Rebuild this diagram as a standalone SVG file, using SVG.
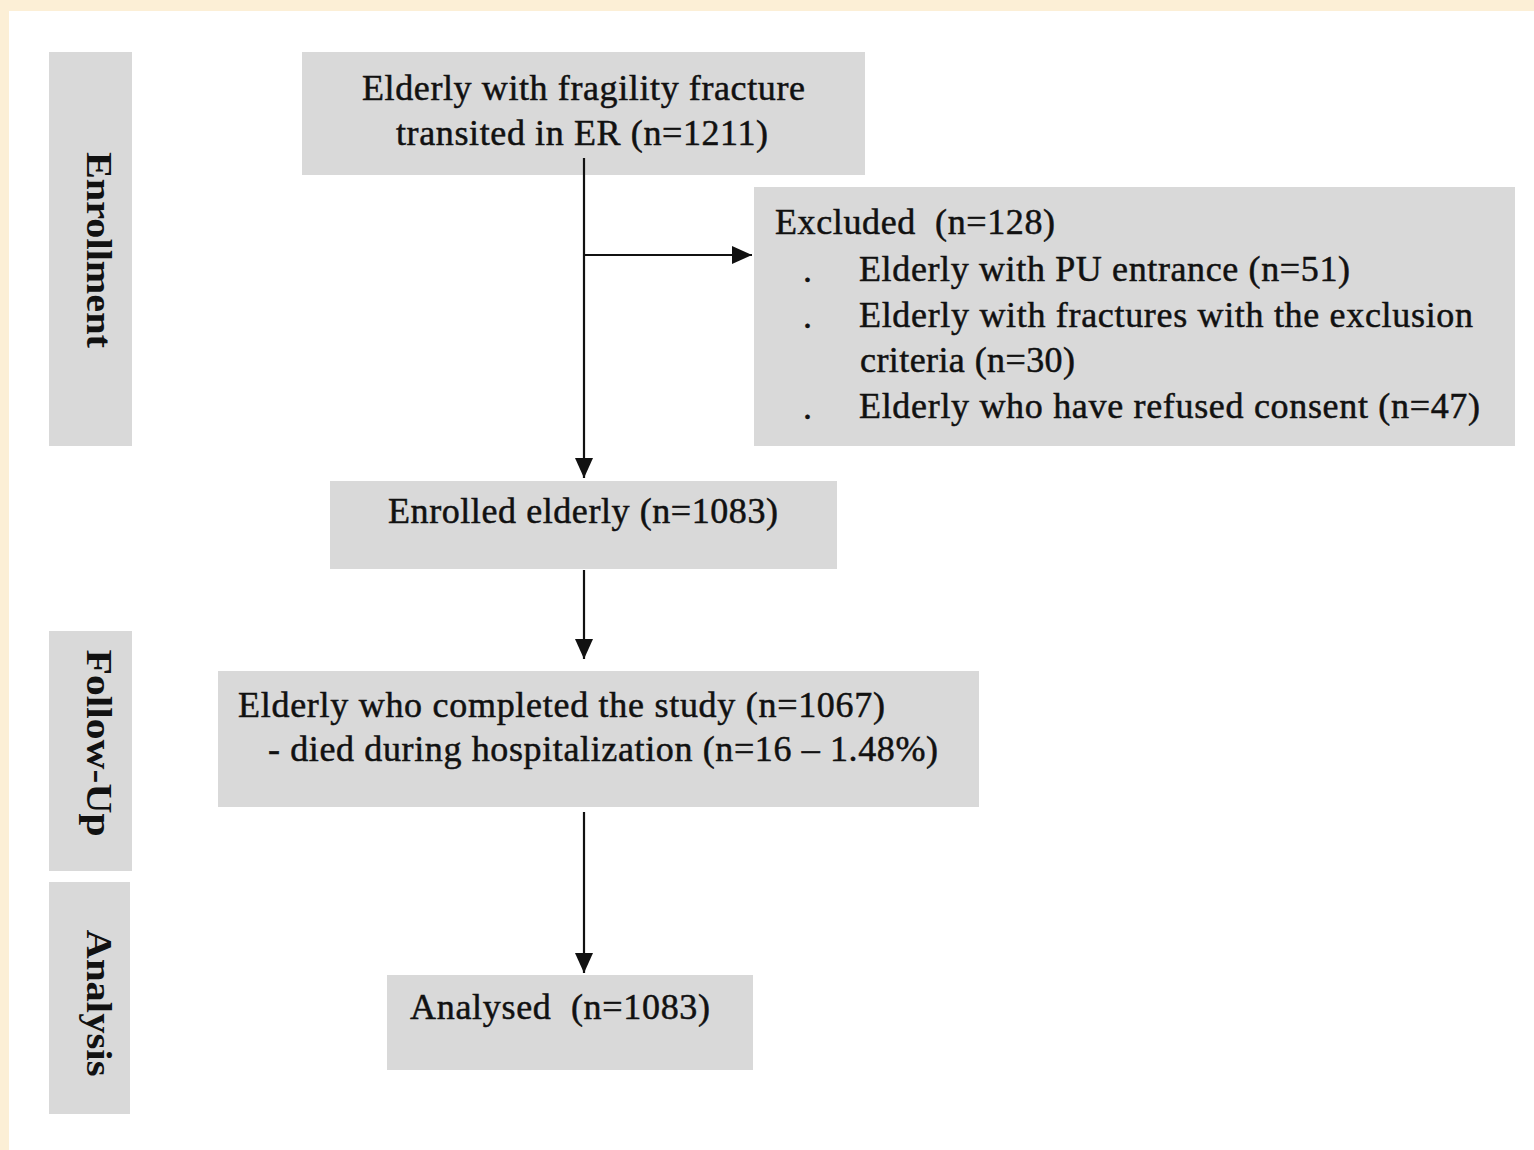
<svg xmlns="http://www.w3.org/2000/svg" width="1534" height="1150" viewBox="0 0 1534 1150">
  <style>
    .box { fill: #d9d9d9; }
    .t { font-family: "Liberation Serif", "Times New Roman", serif; font-size: 36px; fill: #111; stroke: #111; stroke-width: 0.5; }
    .side { font-family: "Liberation Serif", "Times New Roman", serif; font-size: 35px; font-weight: bold; fill: #111; text-anchor: middle; }
    .link { stroke: #111; stroke-width: 2.2; fill: none; marker-end: url(#head); }
  </style>
  <defs>
    <marker id="head" markerUnits="userSpaceOnUse" markerWidth="20" markerHeight="18" refX="20" refY="9" orient="auto">
      <path d="M0,0 L20,9 L0,18 Z" fill="#111"/>
    </marker>
  </defs>

  <!-- page background and frame -->
  <rect x="0" y="0" width="1534" height="1150" fill="#fcefd6"/>
  <rect x="9" y="11" width="1525" height="1139" fill="#ffffff"/>

  <!-- phase labels -->
  <g id="phase-enrollment">
    <rect class="box" x="49" y="52" width="83" height="394"/>
    <text class="side" transform="translate(87,250) rotate(90)" textLength="196" lengthAdjust="spacingAndGlyphs">Enrollment</text>
  </g>
  <g id="phase-followup">
    <rect class="box" x="49" y="631" width="83" height="240"/>
    <text class="side" transform="translate(87,743) rotate(90)" textLength="187" lengthAdjust="spacingAndGlyphs">Follow-Up</text>
  </g>
  <g id="phase-analysis">
    <rect class="box" x="49" y="882" width="81" height="232"/>
    <text class="side" transform="translate(87,1003) rotate(90)" textLength="147" lengthAdjust="spacingAndGlyphs">Analysis</text>
  </g>

  <!-- flow nodes -->
  <g id="node-transited">
    <rect class="box" x="302" y="52" width="563" height="123"/>
    <text class="t" x="362" y="100" textLength="443">Elderly with fragility fracture</text>
    <text class="t" x="396" y="145" textLength="372">transited in ER (n=1211)</text>
  </g>

  <g id="node-excluded">
    <rect class="box" x="754" y="187" width="761" height="259"/>
    <text class="t" x="775" y="234" textLength="280" xml:space="preserve">Excluded  (n=128)</text>
    <text class="t" x="803" y="282">.</text>
    <text class="t" x="859" y="281" textLength="491">Elderly with PU entrance (n=51)</text>
    <text class="t" x="803" y="328">.</text>
    <text class="t" x="859" y="327" textLength="614">Elderly with fractures with the exclusion</text>
    <text class="t" x="860" y="372" textLength="215">criteria (n=30)</text>
    <text class="t" x="803" y="419">.</text>
    <text class="t" x="859" y="418" textLength="621">Elderly who have refused consent (n=47)</text>
  </g>

  <g id="node-enrolled">
    <rect class="box" x="330" y="481" width="507" height="88"/>
    <text class="t" x="388" y="523" textLength="390">Enrolled elderly (n=1083)</text>
  </g>

  <g id="node-completed">
    <rect class="box" x="218" y="671" width="761" height="136"/>
    <text class="t" x="238" y="717" textLength="647">Elderly who completed the study (n=1067)</text>
    <text class="t" x="268" y="761" textLength="670">- died during hospitalization (n=16 – 1.48%)</text>
  </g>

  <g id="node-analysed">
    <rect class="box" x="387" y="975" width="366" height="95"/>
    <text class="t" x="410" y="1019" textLength="300" xml:space="preserve">Analysed  (n=1083)</text>
  </g>

  <!-- connectors -->
  <g id="connectors">
    <line class="link" x1="584" y1="158" x2="584" y2="478"/>
    <line class="link" x1="584" y1="255" x2="752" y2="255"/>
    <line class="link" x1="584" y1="570" x2="584" y2="659"/>
    <line class="link" x1="584" y1="812" x2="584" y2="973"/>
  </g>
</svg>
